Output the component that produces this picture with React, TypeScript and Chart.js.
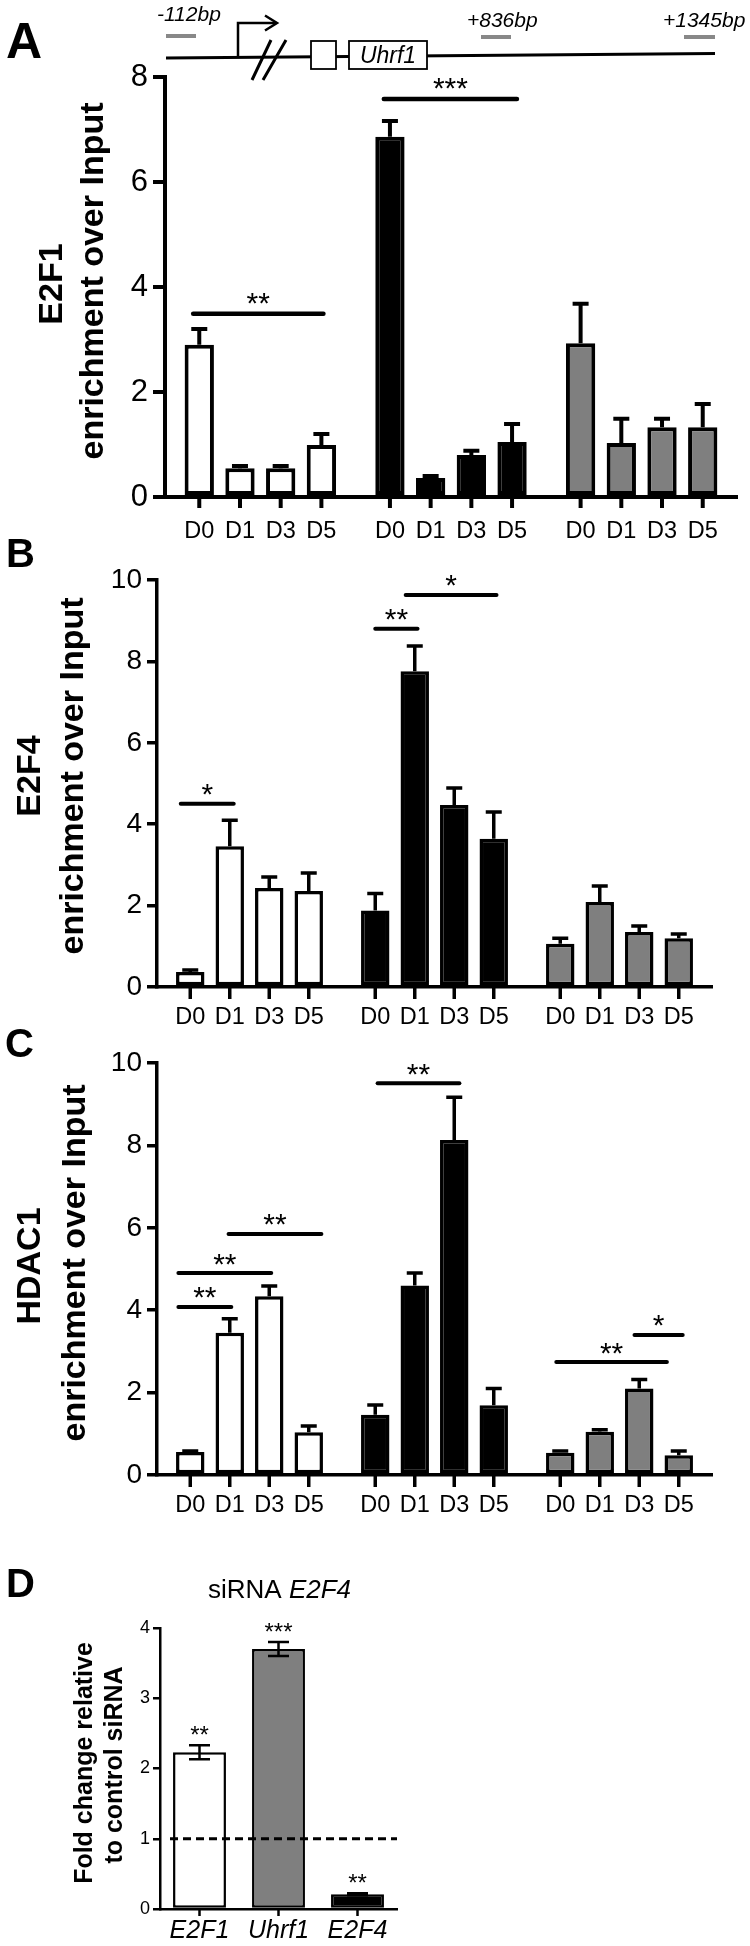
import { useEffect, useRef } from 'react';
import { Chart, registerables } from 'chart.js';

Chart.register(...registerables);

const FONT = "'Liberation Sans', Arial, Helvetica, sans-serif";
Chart.defaults.font.family = FONT;
const PAGE_W = 750;
const PAGE_H = 1946;

// ---------- categories ----------
const timePoints = ['D0', 'D1', 'D3', 'D5'];
const groupFills = ['#ffffff', '#000000', '#7f7f7f'];

// ---------- Panel A : E2F1 ----------
const e2f1White = [2.9, 0.55, 0.55, 0.99];
const e2f1WhiteSem = [0.3, 0.04, 0.04, 0.21];
const e2f1Black = [6.86, 0.36, 0.8, 1.05];
const e2f1BlackSem = [0.3, 0.04, 0.08, 0.34];
const e2f1Gray = [2.93, 1.03, 1.33, 1.33];
const e2f1GraySem = [0.75, 0.46, 0.16, 0.44];
const e2f1YTicks = [0, 2, 4, 6, 8];
// [from bar position, to bar position, height, label]
const e2f1Sig: [number, number, number, string][] = [
  [-0.15, 3.05, 3.49, '**'],
  [3.85, 7.12, 7.58, '***'],
];

// ---------- Panel B : E2F4 ----------
const e2f4White = [0.37, 3.46, 2.43, 2.36];
const e2f4WhiteSem = [0.05, 0.64, 0.27, 0.44];
const e2f4Black = [1.88, 7.76, 4.47, 3.64];
const e2f4BlackSem = [0.42, 0.62, 0.42, 0.66];
const e2f4Gray = [1.06, 2.09, 1.35, 1.2];
const e2f4GraySem = [0.14, 0.39, 0.15, 0.1];
const e2f4YTicks = [0, 2, 4, 6, 8, 10];
const e2f4Sig: [number, number, number, string][] = [
  [-0.24, 1.1, 4.5, '*'],
  [4.0, 5.07, 8.8, '**'],
  [4.77, 7.07, 9.63, '*'],
];

// ---------- Panel C : HDAC1 ----------
const hdac1White = [0.56, 3.45, 4.34, 1.04];
const hdac1WhiteSem = [0.02, 0.34, 0.25, 0.15];
const hdac1Black = [1.46, 4.6, 8.13, 1.69];
const hdac1BlackSem = [0.24, 0.3, 1.04, 0.41];
const hdac1Gray = [0.54, 1.05, 2.1, 0.48];
const hdac1GraySem = [0.04, 0.05, 0.22, 0.1];
const hdac1YTicks = [0, 2, 4, 6, 8, 10];
const hdac1Sig: [number, number, number, string][] = [
  [-0.3, 1.04, 4.08, '**'],
  [-0.3, 2.05, 4.9, '**'],
  [0.97, 3.32, 5.85, '**'],
  [4.06, 6.13, 9.51, '**'],
  [7.9, 10.7, 2.74, '**'],
  [9.88, 11.1, 3.4, '*'],
];

// ---------- Panel D : siRNA E2F4 ----------
const siLabels = ['E2F1', 'Uhrf1', 'E2F4'];
const siFold = [2.23, 3.7, 0.21];
const siSem = [0.1, 0.1, 0.015];
const siFills = ['#ffffff', '#7f7f7f', '#000000'];
const siStars = ['**', '***', '**'];
const siYTicks = [0, 1, 2, 3, 4];
const siControlLevel = 1;

// ---------- layout / style ----------
const layoutA = {
  area: { left: 165, right: 737, top: 77, bottom: 497 },
  axisWidth: 4, barBorder: 4, errWidth: 4, capWidth: 16,
  tickFont: 31, tickLength: 12, tickPad: 5,
  xTickLength: 11, xLabelFont: 23.5, xLabelY: 532,
  sigWidth: 4.5, sigFont: 30, sigGap: 18,
  titleFont: 34,
  titles: [
    { text: 'E2F1', x: 62, y: 284 },
    { text: 'enrichment over Input', x: 103, y: 281 },
  ],
  letter: { text: 'A', x: 6, y: 58, size: 50 },
};
const layoutB = {
  area: { left: 157, right: 712, top: 580, bottom: 987 },
  axisWidth: 3.5, barBorder: 3.5, errWidth: 3.5, capWidth: 16,
  tickFont: 28, tickLength: 10, tickPad: 5,
  xTickLength: 12, xLabelFont: 23.5, xLabelY: 1018,
  sigWidth: 4, sigFont: 30, sigGap: 17,
  titleFont: 34,
  titles: [
    { text: 'E2F4', x: 40, y: 776 },
    { text: 'enrichment over Input', x: 83, y: 776 },
  ],
  letter: { text: 'B', x: 6, y: 567, size: 40 },
};
const layoutC = {
  area: { left: 157, right: 712, top: 1063, bottom: 1475 },
  axisWidth: 3.5, barBorder: 3.5, errWidth: 3.5, capWidth: 16,
  tickFont: 28, tickLength: 10, tickPad: 5,
  xTickLength: 12, xLabelFont: 23.5, xLabelY: 1506,
  sigWidth: 4, sigFont: 30, sigGap: 17,
  titleFont: 34,
  titles: [
    { text: 'HDAC1', x: 40, y: 1266 },
    { text: 'enrichment over Input', x: 85, y: 1263 },
  ],
  letter: { text: 'C', x: 5, y: 1057, size: 40 },
};

function drawRotated(ctx: CanvasRenderingContext2D, text: string, x: number, y: number, font: string) {
  ctx.save();
  ctx.translate(x, y);
  ctx.rotate(-Math.PI / 2);
  ctx.font = font;
  ctx.textAlign = 'center';
  ctx.textBaseline = 'alphabetic';
  ctx.fillText(text, 0, 0);
  ctx.restore();
}

function drawGeneMap(ctx: CanvasRenderingContext2D) {
  ctx.save();
  ctx.strokeStyle = '#000';
  ctx.fillStyle = '#000';
  ctx.lineCap = 'butt';
  // main line
  ctx.lineWidth = 3;
  ctx.beginPath();
  ctx.moveTo(166, 58);
  ctx.lineTo(715, 53.5);
  ctx.stroke();
  // TSS arrow
  ctx.lineWidth = 2.5;
  ctx.beginPath();
  ctx.moveTo(238, 58);
  ctx.lineTo(238, 23);
  ctx.lineTo(276, 23);
  ctx.stroke();
  ctx.beginPath();
  ctx.moveTo(265, 15.5);
  ctx.lineTo(277, 23);
  ctx.lineTo(265, 30.5);
  ctx.stroke();
  // break slashes
  ctx.lineWidth = 3;
  ctx.beginPath();
  ctx.moveTo(252, 80);
  ctx.lineTo(271, 40);
  ctx.moveTo(263, 80);
  ctx.lineTo(286, 40);
  ctx.stroke();
  // exon boxes
  ctx.lineWidth = 1.8;
  ctx.fillStyle = '#fff';
  ctx.fillRect(311, 41, 25, 28);
  ctx.strokeRect(311, 41, 25, 28);
  ctx.fillRect(349, 41, 78, 28);
  ctx.strokeRect(349, 41, 78, 28);
  ctx.fillStyle = '#000';
  ctx.font = `italic 23px ${FONT}`;
  ctx.textAlign = 'center';
  ctx.textBaseline = 'alphabetic';
  ctx.fillText('Uhrf1', 388, 63);
  // amplicon bars
  ctx.strokeStyle = '#888';
  ctx.lineWidth = 4;
  ctx.beginPath();
  ctx.moveTo(166, 36); ctx.lineTo(196, 36);
  ctx.moveTo(481, 37); ctx.lineTo(511, 37);
  ctx.moveTo(684, 37); ctx.lineTo(715, 37);
  ctx.stroke();
  // labels
  ctx.fillStyle = '#000';
  ctx.font = `italic 21px ${FONT}`;
  ctx.textAlign = 'left';
  ctx.fillText('-112bp', 157, 21);
  ctx.fillText('+836bp', 467, 27);
  ctx.fillText('+1345bp', 663, 27);
  ctx.restore();
}

function makeGroupedChart(
  canvas: HTMLCanvasElement,
  groups: number[][],
  sems: number[][],
  yTicks: number[],
  sig: [number, number, number, string][],
  p: typeof layoutA,
  extra?: (ctx: CanvasRenderingContext2D) => void,
) {
  const datasets = timePoints.map((tp, t) => ({
    label: tp,
    data: groups.map((g) => g[t]),
    backgroundColor: groupFills,
    borderColor: '#000',
    borderWidth: p.barBorder,
    borderSkipped: false as const,
    categoryPercentage: 0.854,
    barPercentage: 0.72,
  }));
  const Y_W = 60;
  const X_H = 20;
  const plugin = {
    id: 'panelDecor',
    afterDatasetsDraw(chart: any) {
      const ctx: CanvasRenderingContext2D = chart.ctx;
      const ys = chart.scales.y;
      const centers: number[] = [];
      groups.forEach((g, gi) =>
        g.forEach((_v, t) => {
          centers[gi * 4 + t] = chart.getDatasetMeta(t).data[gi].x;
        }),
      );
      ctx.save();
      ctx.strokeStyle = '#000';
      ctx.fillStyle = '#000';
      // error bars (upper half)
      ctx.lineWidth = p.errWidth;
      ctx.lineCap = 'butt';
      groups.forEach((g, gi) =>
        g.forEach((v, t) => {
          const x = centers[gi * 4 + t];
          const yBar = ys.getPixelForValue(v);
          const yTop = ys.getPixelForValue(v + sems[gi][t]);
          ctx.beginPath();
          ctx.moveTo(x, yBar);
          ctx.lineTo(x, yTop);
          ctx.moveTo(x - p.capWidth / 2, yTop);
          ctx.lineTo(x + p.capWidth / 2, yTop);
          ctx.stroke();
        }),
      );
      // x tick marks and labels
      ctx.lineWidth = p.axisWidth;
      centers.forEach((x) => {
        ctx.beginPath();
        ctx.moveTo(x, p.area.bottom);
        ctx.lineTo(x, p.area.bottom + p.xTickLength);
        ctx.stroke();
      });
      ctx.font = `${p.xLabelFont}px ${FONT}`;
      ctx.textAlign = 'center';
      ctx.textBaseline = 'middle';
      centers.forEach((x, i) => ctx.fillText(timePoints[i % 4], x, p.xLabelY));
      // significance bars
      const posX = (pos: number) => {
        const i = Math.max(0, Math.min(centers.length - 1, Math.round(pos)));
        const g = Math.floor(i / 4);
        const step = centers[g * 4 + 1] - centers[g * 4];
        return centers[i] + (pos - i) * step;
      };
      ctx.lineWidth = p.sigWidth;
      ctx.lineCap = 'round';
      ctx.font = `${p.sigFont}px ${FONT}`;
      ctx.textBaseline = 'alphabetic';
      sig.forEach(([a, b, v, s]) => {
        const x1 = posX(a);
        const x2 = posX(b);
        const y = ys.getPixelForValue(v);
        ctx.beginPath();
        ctx.moveTo(x1, y);
        ctx.lineTo(x2, y);
        ctx.stroke();
        ctx.fillText(s, (x1 + x2) / 2, y - p.sigGap + 0.58 * p.sigFont);
      });
      ctx.restore();
    },
    afterDraw(chart: any) {
      const ctx: CanvasRenderingContext2D = chart.ctx;
      ctx.save();
      ctx.fillStyle = '#000';
      p.titles.forEach((t) => drawRotated(ctx, t.text, t.x, t.y, `bold ${p.titleFont}px ${FONT}`));
      ctx.font = `bold ${p.letter.size}px ${FONT}`;
      ctx.textAlign = 'left';
      ctx.textBaseline = 'alphabetic';
      ctx.fillText(p.letter.text, p.letter.x, p.letter.y);
      ctx.restore();
      if (extra) extra(ctx);
    },
  };
  return new Chart(canvas, {
    type: 'bar',
    data: { labels: ['grp1', 'grp2', 'grp3'], datasets },
    options: {
      responsive: false,
      animation: false,
      events: [],
      layout: {
        padding: {
          left: p.area.left - Y_W,
          right: PAGE_W - p.area.right,
          top: p.area.top,
          bottom: PAGE_H - p.area.bottom - X_H,
        },
      },
      plugins: { legend: { display: false }, tooltip: { enabled: false } },
      scales: {
        x: {
          ticks: { display: false },
          grid: { display: true, drawOnChartArea: false, drawTicks: false },
          border: { display: true, color: '#000', width: p.axisWidth },
          afterFit: (s: any) => {
            s.height = X_H;
          },
        },
        y: {
          min: yTicks[0],
          max: yTicks[yTicks.length - 1],
          ticks: {
            stepSize: yTicks[1] - yTicks[0],
            color: '#000',
            font: { size: p.tickFont, family: FONT },
            padding: p.tickPad,
          },
          grid: {
            drawOnChartArea: false,
            drawTicks: true,
            tickLength: p.tickLength,
            tickWidth: p.axisWidth,
            tickColor: '#000',
            color: '#000',
            lineWidth: p.axisWidth,
          },
          border: { display: true, color: '#000', width: p.axisWidth },
          afterFit: (s: any) => {
            s.width = Y_W;
          },
        },
      },
    },
    plugins: [plugin],
  } as any);
}

const layoutD = {
  area: { left: 160, right: 397, top: 1628, bottom: 1909 },
  axisWidth: 2.5, barBorder: 2.5, errWidth: 2.5, capWidth: 21,
  tickFont: 18, tickLength: 7, tickPad: 3,
  xTickLength: 7, xLabelFont: 25, xLabelY: 1931,
  starFont: 24, starGap: 16,
  dashStart: 170,
  titleFont: 25,
  titles: [
    { text: 'Fold change relative', x: 92, y: 1763 },
    { text: 'to control siRNA', x: 122, y: 1765 },
  ],
  letter: { text: 'D', x: 6, y: 1597, size: 40 },
  header: { x: 208, y: 1598, size: 26 },
};

function makeSiChart(canvas: HTMLCanvasElement) {
  const p = layoutD;
  const Y_W = 50;
  const X_H = 15;
  const plugin = {
    id: 'siDecor',
    afterDatasetsDraw(chart: any) {
      const ctx: CanvasRenderingContext2D = chart.ctx;
      const ys = chart.scales.y;
      const meta = chart.getDatasetMeta(0);
      ctx.save();
      ctx.strokeStyle = '#000';
      ctx.fillStyle = '#000';
      // dashed control line
      ctx.lineWidth = 3;
      ctx.setLineDash([8, 5]);
      const yc = ys.getPixelForValue(siControlLevel);
      ctx.beginPath();
      ctx.moveTo(p.dashStart, yc);
      ctx.lineTo(chart.chartArea.right, yc);
      ctx.stroke();
      ctx.setLineDash([]);
      // error bars
      ctx.lineWidth = p.errWidth;
      siFold.forEach((v, i) => {
        const x = meta.data[i].x;
        const yHi = ys.getPixelForValue(v + siSem[i]);
        const yLo = ys.getPixelForValue(v - siSem[i]);
        ctx.beginPath();
        ctx.moveTo(x, yLo);
        ctx.lineTo(x, yHi);
        ctx.moveTo(x - p.capWidth / 2, yHi);
        ctx.lineTo(x + p.capWidth / 2, yHi);
        ctx.moveTo(x - p.capWidth / 2, yLo);
        ctx.lineTo(x + p.capWidth / 2, yLo);
        ctx.stroke();
        ctx.font = `${p.starFont}px ${FONT}`;
        ctx.textAlign = 'center';
        ctx.textBaseline = 'alphabetic';
        ctx.fillText(siStars[i], x, yHi - p.starGap + 0.58 * p.starFont);
      });
      // x ticks and labels
      ctx.lineWidth = p.axisWidth;
      ctx.font = `italic ${p.xLabelFont}px ${FONT}`;
      ctx.textBaseline = 'middle';
      siLabels.forEach((lab, i) => {
        const x = meta.data[i].x;
        ctx.beginPath();
        ctx.moveTo(x, p.area.bottom);
        ctx.lineTo(x, p.area.bottom + p.xTickLength);
        ctx.stroke();
        ctx.fillText(lab, x, p.xLabelY);
      });
      ctx.restore();
    },
    afterDraw(chart: any) {
      const ctx: CanvasRenderingContext2D = chart.ctx;
      ctx.save();
      ctx.fillStyle = '#000';
      p.titles.forEach((t) => drawRotated(ctx, t.text, t.x, t.y, `bold ${p.titleFont}px ${FONT}`));
      ctx.font = `bold ${p.letter.size}px ${FONT}`;
      ctx.textAlign = 'left';
      ctx.textBaseline = 'alphabetic';
      ctx.fillText(p.letter.text, p.letter.x, p.letter.y);
      // header "siRNA E2F4"
      ctx.font = `${p.header.size}px ${FONT}`;
      const w1 = ctx.measureText('siRNA ').width;
      ctx.fillText('siRNA ', p.header.x, p.header.y);
      ctx.font = `italic ${p.header.size}px ${FONT}`;
      ctx.fillText('E2F4', p.header.x + w1, p.header.y);
      ctx.restore();
    },
  };
  return new Chart(canvas, {
    type: 'bar',
    data: {
      labels: siLabels,
      datasets: [
        {
          label: 'siRNA E2F4',
          data: siFold,
          backgroundColor: siFills,
          borderColor: '#000',
          borderWidth: p.barBorder,
          borderSkipped: false,
          categoryPercentage: 1,
          barPercentage: 0.67,
        },
      ],
    },
    options: {
      responsive: false,
      animation: false,
      events: [],
      layout: {
        padding: {
          left: p.area.left - Y_W,
          right: PAGE_W - p.area.right,
          top: p.area.top,
          bottom: PAGE_H - p.area.bottom - X_H,
        },
      },
      plugins: { legend: { display: false }, tooltip: { enabled: false } },
      scales: {
        x: {
          ticks: { display: false },
          grid: { display: true, drawOnChartArea: false, drawTicks: false },
          border: { display: true, color: '#000', width: p.axisWidth },
          afterFit: (s: any) => {
            s.height = X_H;
          },
        },
        y: {
          min: siYTicks[0],
          max: siYTicks[siYTicks.length - 1],
          ticks: {
            stepSize: siYTicks[1] - siYTicks[0],
            color: '#000',
            font: { size: p.tickFont, family: FONT },
            padding: p.tickPad,
          },
          grid: {
            drawOnChartArea: false,
            drawTicks: true,
            tickLength: p.tickLength,
            tickWidth: p.axisWidth,
            tickColor: '#000',
            color: '#000',
            lineWidth: p.axisWidth,
          },
          border: { display: true, color: '#000', width: p.axisWidth },
          afterFit: (s: any) => {
            s.width = Y_W;
          },
        },
      },
    },
    plugins: [plugin],
  } as any);
}

export default function App() {
  const refA = useRef<HTMLCanvasElement>(null);
  const refB = useRef<HTMLCanvasElement>(null);
  const refC = useRef<HTMLCanvasElement>(null);
  const refD = useRef<HTMLCanvasElement>(null);

  useEffect(() => {
    const charts: Chart[] = [];
    if (refA.current)
      charts.push(
        makeGroupedChart(
          refA.current,
          [e2f1White, e2f1Black, e2f1Gray],
          [e2f1WhiteSem, e2f1BlackSem, e2f1GraySem],
          e2f1YTicks,
          e2f1Sig,
          layoutA,
          drawGeneMap,
        ),
      );
    if (refB.current)
      charts.push(
        makeGroupedChart(
          refB.current,
          [e2f4White, e2f4Black, e2f4Gray],
          [e2f4WhiteSem, e2f4BlackSem, e2f4GraySem],
          e2f4YTicks,
          e2f4Sig,
          layoutB,
        ),
      );
    if (refC.current)
      charts.push(
        makeGroupedChart(
          refC.current,
          [hdac1White, hdac1Black, hdac1Gray],
          [hdac1WhiteSem, hdac1BlackSem, hdac1GraySem],
          hdac1YTicks,
          hdac1Sig,
          layoutC,
        ),
      );
    if (refD.current) charts.push(makeSiChart(refD.current));
    return () => charts.forEach((c) => c.destroy());
  }, []);

  const canvasStyle: React.CSSProperties = { position: 'absolute', left: 0, top: 0, width: PAGE_W, height: PAGE_H };
  return (
    <div style={{ position: 'absolute', left: 0, top: 0, width: PAGE_W, height: PAGE_H, background: '#fff', overflow: 'hidden' }}>
      <canvas ref={refA} width={PAGE_W} height={PAGE_H} style={canvasStyle} />
      <canvas ref={refB} width={PAGE_W} height={PAGE_H} style={canvasStyle} />
      <canvas ref={refC} width={PAGE_W} height={PAGE_H} style={canvasStyle} />
      <canvas ref={refD} width={PAGE_W} height={PAGE_H} style={canvasStyle} />
    </div>
  );
}
